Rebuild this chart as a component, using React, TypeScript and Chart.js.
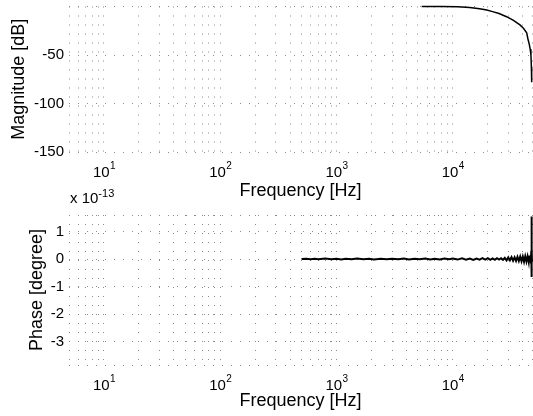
import React, { useEffect, useRef } from "react";
import { Chart, registerables } from "chart.js";

Chart.register(...registerables);

const FONT = '"Liberation Sans", Arial, Helvetica, "DejaVu Sans", sans-serif';

// ---------- axis definitions ----------
const X_MIN = 5;
const X_MAX = 48000;
const GRID_FREQS = [
  5, 6, 7, 8, 9, 10, 20, 30, 40, 50, 60, 70, 80, 90, 100, 200, 300, 400, 500, 600, 700, 800, 900,
  1000, 2000, 3000, 4000, 5000, 6000, 7000, 8000, 9000, 10000, 20000, 30000, 40000, 48000,
];
const DECADES = [10, 100, 1000, 10000];
const DECADE_BASE = "10";
const DECADE_EXPONENTS = ["1", "2", "3", "4"];

const MAG_MIN = -150;
const MAG_MAX = 0;
const MAG_TICKS = [-150, -100, -50, 0];
const MAG_TICK_LABELS = ["-150", "-100", "-50", ""];

const PH_MIN = -3.85;
const PH_MAX = 1.6;
const PH_TICKS = [-3.85, -3, -2, -1, 0, 1, 1.6];
const PH_TICK_LABELS = ["", "-3", "-2", "-1", "0", "1", ""];

// ---------- data ----------
const MAG_FREQ = [5400, 8000, 11000, 14000, 17000, 19600, 22000, 25000, 29000, 33000, 37800, 40500, 43200, 44300, 45500, 46300, 47000, 47400, 47700];
const MAG_DB = [0, 0, -0.3, -1, -2.3, -3.6, -5.3, -7.3, -10.5, -14, -19, -22.5, -27, -33.5, -39, -44, -50, -62, -78];

const PHASE_FREQ = [
  500, 550, 600, 650, 700, 800, 900, 1000, 1100, 1200, 1350, 1500, 1700, 1900, 2100, 2400, 2700, 3000,
  3400, 3800, 4200, 4700, 5200, 5800, 6400, 7000, 7700, 8500, 9300, 10000, 11000, 12000, 13000, 14000,
  15000, 16000, 17000, 18000, 19000, 20000, 21000, 22000, 23000, 24000, 25000, 26000, 27000, 28000,
  29000, 30000, 31000, 32000, 33000, 34000, 35000, 36000, 37000, 38000, 39000, 40000, 41000, 42000,
  43000, 44000, 45000, 45500, 46000, 46500, 47000, 47300, 47500, 47650, 47800, 48000,
];
const PHASE_E13 = [
  0, 0.01, -0.01, 0.01, -0.01, 0.02, -0.01, 0.01, -0.02, 0.01, -0.01, 0.02, -0.01, 0.01, -0.02, 0.01, -0.01, 0.01,
  -0.01, 0.02, -0.02, 0.01, -0.01, 0.02, -0.02, 0.01, -0.02, 0.02, -0.01, 0.02, -0.02, 0.03, -0.02, 0.02,
  -0.03, 0.02, -0.02, 0.03, -0.02, 0.03, -0.03, 0.02, -0.03, 0.03, -0.02, 0.03, -0.03, 0.04,
  -0.05, 0.06, -0.05, 0.07, -0.06, 0.06, -0.07, 0.08, -0.07, 0.09, -0.08, 0.09, -0.1, 0.1,
  -0.09, 0.1, -0.11, 0.12, -0.1, 0.13, -0.16, 0.3, 1.55, -0.65, 0.4, -0.1,
];

// ---------- styling ----------
const GRID_COLOR = "#8a8a8a";
const GRID_DASH = [1, 8];
const Y_AXIS_WIDTH = 69;

// draws the x tick labels as 10 with a raised exponent
const decadeLabelPlugin = {
  id: "decadeLabels",
  afterDraw(chart: any) {
    const xs = chart.scales.x;
    const ctx = chart.ctx;
    const top = chart.chartArea.bottom;
    ctx.save();
    ctx.fillStyle = "#000";
    ctx.textBaseline = "alphabetic";
    DECADES.forEach((v, i) => {
      const px = xs.getPixelForValue(v);
      ctx.font = `15px ${FONT}`;
      const wBase = ctx.measureText(DECADE_BASE).width;
      ctx.font = `10px ${FONT}`;
      const wExp = ctx.measureText(DECADE_EXPONENTS[i]).width;
      const left = px - (wBase + wExp) / 2;
      ctx.font = `15px ${FONT}`;
      ctx.textAlign = "left";
      ctx.fillText(DECADE_BASE, left, top + 25);
      ctx.font = `10px ${FONT}`;
      ctx.fillText(DECADE_EXPONENTS[i], left + wBase + 0.5, top + 17);
    });
    ctx.restore();
  },
};

function makeConfig(opts: {
  xs: number[];
  ys: number[];
  yMin: number;
  yMax: number;
  yTicks: number[];
  yLabels: string[];
  yTitle: string;
  yTitlePad: number;
  xAxisHeight: number;
  xTitlePad: number;
  padTop: number;
  lineWidth: number;
}): any {
  const points = opts.xs.map((x, i) => ({ x, y: opts.ys[i] }));
  return {
    type: "line",
    data: {
      datasets: [
        {
          data: points,
          borderColor: "#000",
          borderWidth: opts.lineWidth,
          pointRadius: 0,
          tension: 0,
          fill: false,
          clip: 5,
        },
      ],
    },
    plugins: [decadeLabelPlugin],
    options: {
      animation: false,
      responsive: false,
      events: [],
      layout: { padding: { top: opts.padTop, right: 1, bottom: 0, left: 0 } },
      plugins: { legend: { display: false }, tooltip: { enabled: false } },
      scales: {
        x: {
          type: "logarithmic",
          min: X_MIN,
          max: X_MAX,
          afterBuildTicks: (s: any) => {
            s.ticks = GRID_FREQS.map((v) => ({ value: v }));
          },
          afterFit: (s: any) => {
            s.height = opts.xAxisHeight;
            s.paddingLeft = 0;
            s.paddingRight = 0;
          },
          grid: { color: GRID_COLOR, lineWidth: 1, drawTicks: false },
          border: { display: false, dash: GRID_DASH },
          ticks: {
            autoSkip: false,
            maxRotation: 0,
            padding: 9,
            color: "#000",
            font: { family: FONT, size: 14 },
            callback: () => "",
          },
          title: {
            display: true,
            text: "Frequency [Hz]",
            color: "#000",
            font: { family: FONT, size: 18 },
            padding: { top: 0, bottom: opts.xTitlePad },
          },
        },
        y: {
          type: "linear",
          min: opts.yMin,
          max: opts.yMax,
          afterBuildTicks: (s: any) => {
            s.ticks = opts.yTicks.map((v) => ({ value: v }));
          },
          afterFit: (s: any) => {
            s.width = Y_AXIS_WIDTH;
            s.paddingTop = 0;
            s.paddingBottom = 0;
          },
          grid: { color: GRID_COLOR, lineWidth: 1, drawTicks: false },
          border: { display: false, dash: GRID_DASH },
          ticks: {
            padding: 5,
            color: "#000",
            font: { family: FONT, size: 15 },
            callback: (v: any) => {
              const i = opts.yTicks.indexOf(Number(v));
              return i >= 0 ? opts.yLabels[i] : "";
            },
          },
          title: {
            display: true,
            text: opts.yTitle,
            color: "#000",
            font: { family: FONT, size: 18 },
            padding: { top: opts.yTitlePad, bottom: 0 },
          },
        },
      },
    },
  };
}

export default function App() {
  const topRef = useRef<HTMLCanvasElement>(null);
  const botRef = useRef<HTMLCanvasElement>(null);

  useEffect(() => {
    const c1 = new Chart(
      topRef.current as HTMLCanvasElement,
      makeConfig({
        xs: MAG_FREQ,
        ys: MAG_DB,
        yMin: MAG_MIN,
        yMax: MAG_MAX,
        yTicks: MAG_TICKS,
        yLabels: MAG_TICK_LABELS,
        yTitle: "Magnitude [dB]",
        yTitlePad: 8,
        xAxisHeight: 53,
        xTitlePad: 3,
        padTop: 6.5,
        lineWidth: 1.5,
      })
    );
    const c2 = new Chart(
      botRef.current as HTMLCanvasElement,
      makeConfig({
        xs: PHASE_FREQ,
        ys: PHASE_E13,
        yMin: PH_MIN,
        yMax: PH_MAX,
        yTicks: PH_TICKS,
        yLabels: PH_TICK_LABELS,
        yTitle: "Phase [degree]",
        yTitlePad: 26,
        xAxisHeight: 51,
        xTitlePad: 4,
        padTop: 10,
        lineWidth: 2,
      })
    );
    return () => {
      c1.destroy();
      c2.destroy();
    };
  }, []);

  return (
    <div style={{ position: "absolute", left: 0, top: 0, width: 533, height: 416, background: "#fff" }}>
      <canvas ref={topRef} width={533} height={205} style={{ position: "absolute", left: 0, top: 0 }} />
      <canvas ref={botRef} width={533} height={211} style={{ position: "absolute", left: 0, top: 205 }} />
      <div
        style={{
          position: "absolute",
          left: 70,
          top: 190,
          fontFamily: FONT,
          fontSize: 15,
          lineHeight: "15px",
          color: "#000",
          whiteSpace: "nowrap",
        }}
      >
        x 10<span style={{ fontSize: 11, position: "relative", top: -6 }}>-13</span>
      </div>
    </div>
  );
}
